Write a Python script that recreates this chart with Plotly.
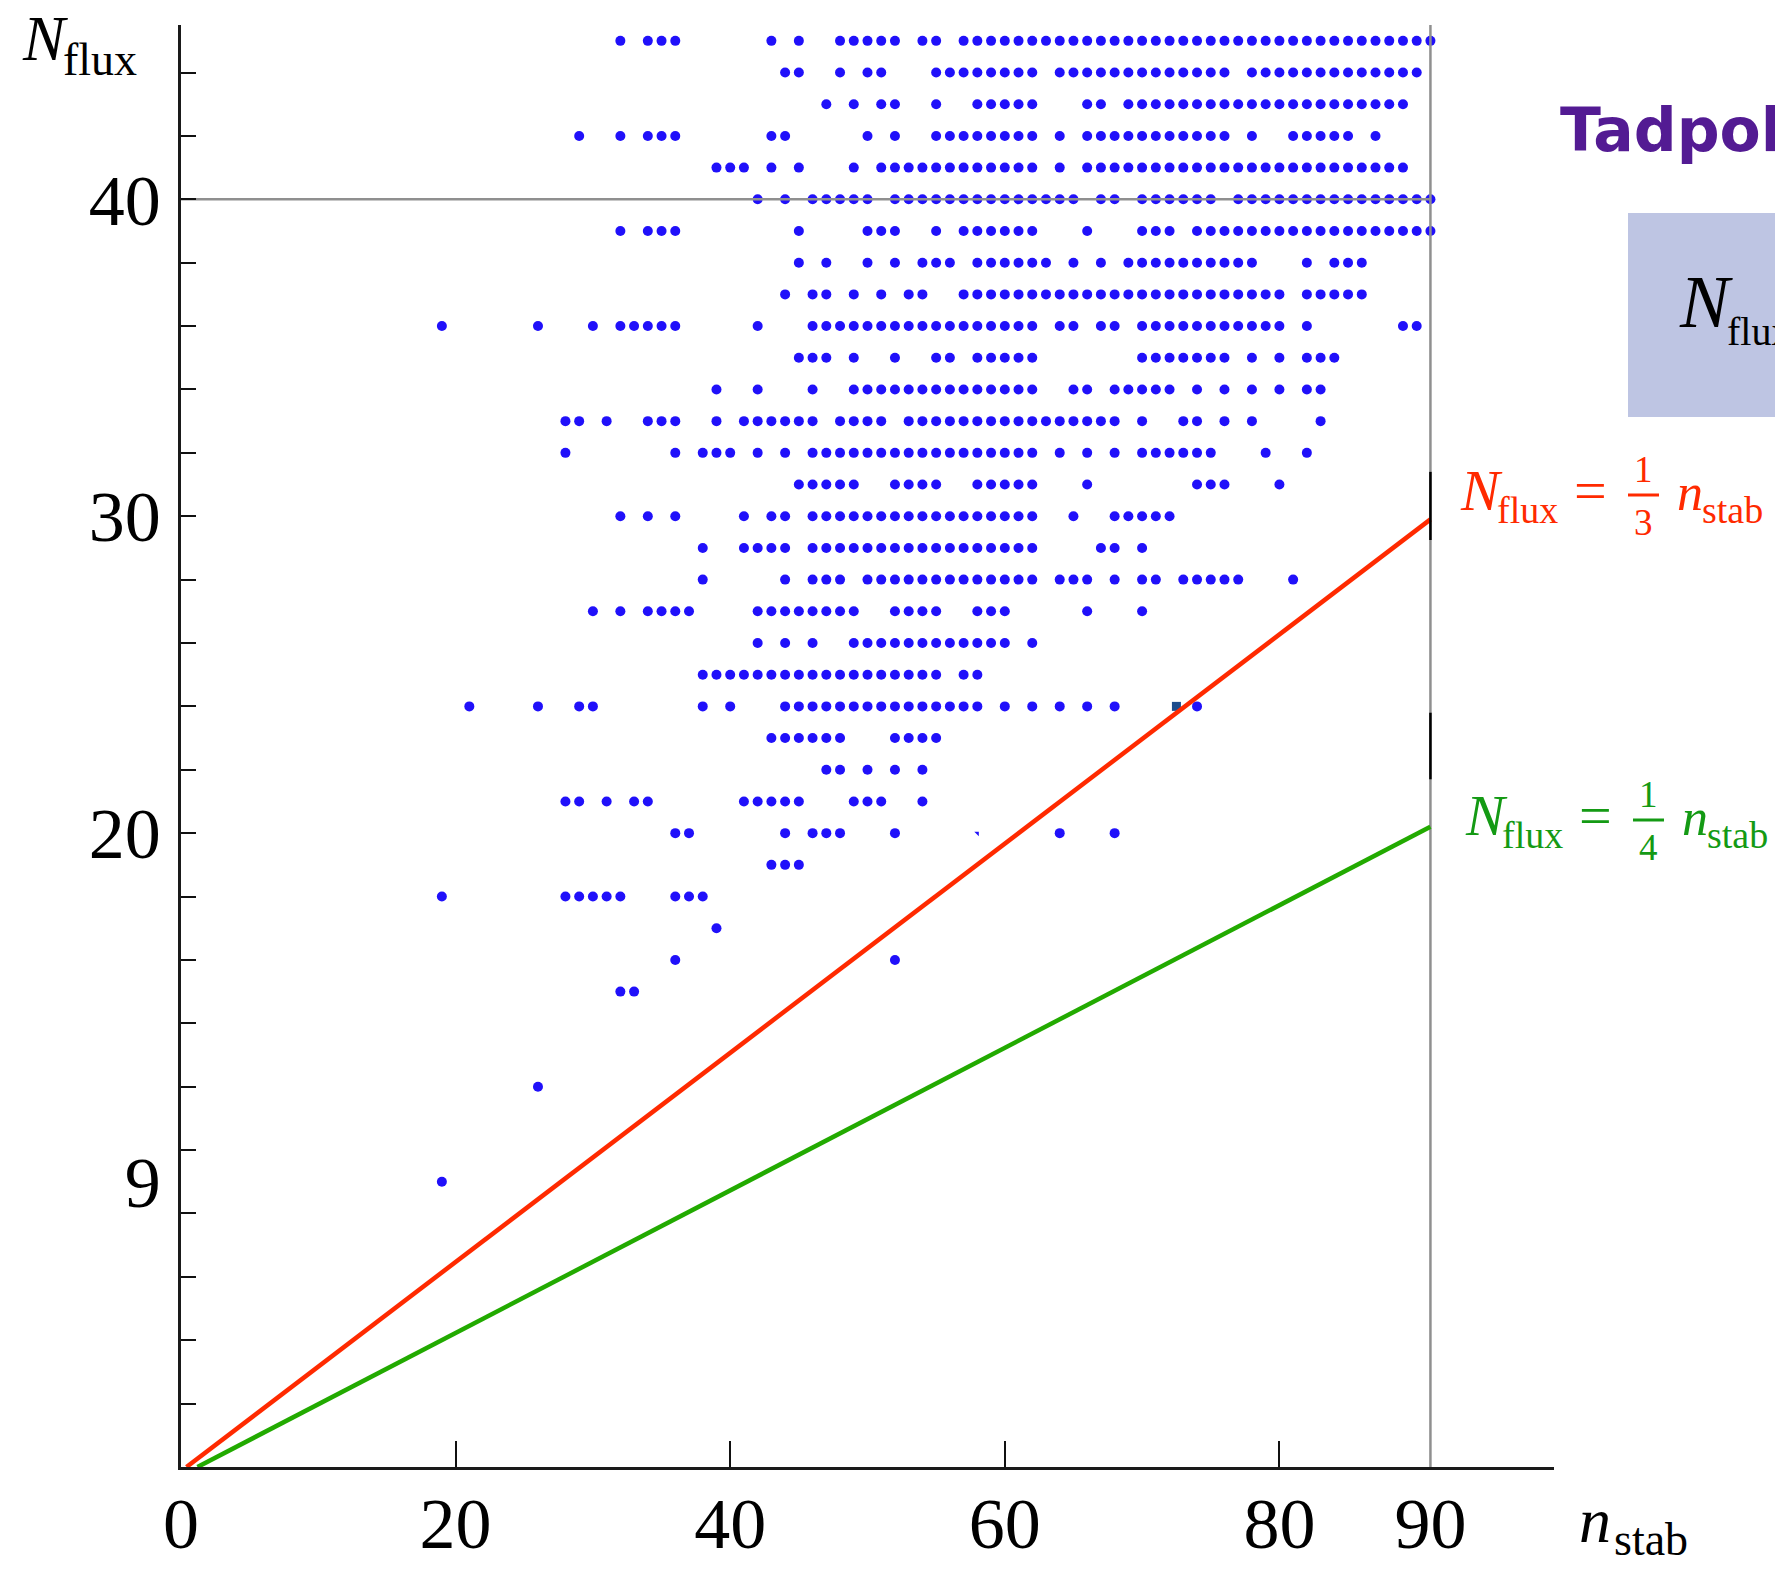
import plotly.graph_objects as go

# ---------------- data ----------------
# Each row: N_flux level and runs (first, last) of consecutive integer n_stab values with a dot
flux_levels = [45, 44, 43, 42, 41, 40, 39, 38, 37, 36, 35, 34, 33, 32, 31, 30,
               29, 28, 27, 26, 25, 24, 23, 22, 21, 20, 19, 18, 17, 16, 15, 12, 9]
row45 = [(32, 32), (34, 36), (43, 43), (45, 45), (48, 52), (54, 55), (57, 91)]
row44 = [(44, 45), (48, 48), (50, 51), (55, 62), (64, 76), (78, 90)]
row43 = [(47, 47), (49, 49), (51, 52), (55, 55), (58, 62), (66, 67), (69, 89)]
row42 = [(29, 29), (32, 32), (34, 36), (43, 44), (50, 50), (52, 52), (55, 62), (64, 64),
         (66, 76), (78, 78), (81, 85), (87, 87)]
row41 = [(39, 41), (43, 43), (45, 45), (49, 49), (51, 62), (64, 64), (66, 89)]
row40 = [(42, 42), (44, 44), (46, 50), (52, 65), (67, 68), (70, 75), (77, 91)]
row39 = [(32, 32), (34, 36), (45, 45), (50, 52), (55, 55), (57, 62), (66, 66), (70, 72), (74, 91)]
row38 = [(45, 45), (47, 47), (50, 50), (52, 52), (54, 56), (58, 63), (65, 65), (67, 67),
         (69, 78), (82, 82), (84, 86)]
row37 = [(44, 44), (46, 47), (49, 49), (51, 51), (53, 54), (57, 80), (82, 86)]
row36 = [(19, 19), (26, 26), (30, 30), (32, 36), (42, 42), (46, 62), (64, 65), (67, 68),
         (70, 80), (82, 82), (89, 90)]
row35 = [(45, 47), (49, 49), (52, 52), (55, 56), (58, 62), (70, 76), (78, 78), (80, 80), (82, 84)]
row34 = [(39, 39), (42, 42), (46, 46), (49, 62), (65, 66), (68, 72), (74, 74), (76, 76),
         (78, 78), (80, 80), (82, 83)]
row33 = [(28, 29), (31, 31), (34, 36), (39, 39), (41, 46), (48, 51), (53, 68), (70, 70),
         (73, 74), (76, 76), (78, 78), (83, 83)]
row32 = [(28, 28), (36, 36), (38, 40), (42, 42), (44, 44), (46, 62), (64, 64), (66, 66),
         (68, 68), (70, 75), (79, 79), (82, 82)]
row31 = [(45, 49), (52, 55), (58, 62), (66, 66), (74, 76), (80, 80)]
row30 = [(32, 32), (34, 34), (36, 36), (41, 41), (43, 44), (46, 62), (65, 65), (68, 72)]
row29 = [(38, 38), (41, 44), (46, 62), (67, 68), (70, 70)]
row28 = [(38, 38), (44, 44), (46, 48), (50, 62), (64, 66), (68, 68), (70, 71), (73, 77), (81, 81)]
row27 = [(30, 30), (32, 32), (34, 37), (42, 49), (52, 55), (58, 60), (66, 66), (70, 70)]
row26 = [(42, 42), (44, 44), (46, 46), (49, 60), (62, 62)]
row25 = [(38, 55), (57, 58)]
row24 = [(21, 21), (26, 26), (29, 30), (38, 38), (40, 40), (44, 58), (60, 60), (62, 62),
         (64, 64), (66, 66), (68, 68), (74, 74)]
row23 = [(43, 48), (52, 55)]
row22 = [(47, 48), (50, 50), (52, 52), (54, 54)]
row21 = [(28, 29), (31, 31), (33, 34), (41, 45), (49, 51), (54, 54)]
row20 = [(36, 37), (44, 44), (46, 48), (52, 52), (64, 64), (68, 68)]
row19 = [(43, 45)]
row18 = [(19, 19), (28, 32), (36, 38)]
row17 = [(39, 39)]
row16 = [(36, 36), (52, 52)]
row15 = [(32, 33)]
row12 = [(26, 26)]
row9 = [(19, 19)]
row_runs = [row45, row44, row43, row42, row41, row40, row39, row38, row37, row36, row35,
            row34, row33, row32, row31, row30, row29, row28, row27, row26, row25, row24,
            row23, row22, row21, row20, row19, row18, row17, row16, row15, row12, row9]

# odd marks in the picture
partial_x, partial_y = [58], [20]          # half-erased dot
square_x, square_y = [72.5], [24]          # dark square artefact

# reference lines
red_x, red_y = [0.4, 91], [0, 29.9]
green_x, green_y = [1.2, 91], [0, 20.2]
grid_h_x, grid_h_y = [0, 91], [40, 40]
grid_v_x, grid_v_y = [91, 91], [0, 45.5]
seg1_x, seg1_y = [91, 91], [29.25, 31.4]
seg2_x, seg2_y = [91, 91], [21.7, 23.8]

# ticks
x_tick_vals = [0, 20, 40, 60, 80, 91]
x_tick_text = ["0", "20", "40", "60", "80", "90"]
x_tick_marks = [20, 40, 60, 80, 100]
y_tick_vals = [9, 20, 30, 40]
y_tick_text = ["9", "20", "30", "40"]
y_tick_marks = [2, 4, 6, 8, 10, 12, 14, 16, 18, 20, 22, 24, 26, 28, 30, 32, 34, 36, 38, 40, 42, 44]

# ---------------- build ----------------
xs, ys = [], []
for lev, runs in zip(flux_levels, row_runs):
    for a, b in runs:
        for n in range(a, b + 1):
            xs.append(n)
            ys.append(lev)

W, H = 1775, 1570
L, R, T, B = 181, 221, 25, 103
PW, PH = W - L - R, H - T - B
SERIF = "Liberation Serif"
BLUE = "rgb(32,16,250)"
RED = "#FF2A00"
GREEN_LINE = "#22AA00"
GREEN_TXT = "#149A14"


def pxx(px):
    return (px - L) / PW


def pxy(py):
    return (H - B - py) / PH


annotations = []
shapes = []


def txt(text, x, baseline, size, color="black", italic=False, anchor="left",
        family=SERIF, weight="normal"):
    annotations.append(dict(
        text=text, x=pxx(x), y=pxy(baseline - 0.34 * size), xref="paper", yref="paper",
        xanchor=anchor, yanchor="middle", showarrow=False,
        font=dict(family=family, size=size, color=color,
                  style="italic" if italic else "normal", weight=weight)))


def equation(x0, b0, denom, color):
    txt("N", x0, b0, 58, color, italic=True)
    txt("flux", x0 + 37, b0 + 13, 38, color)
    txt("=", x0 + 132, b0, 58, color, anchor="center")
    txt("1", x0 + 185, b0 - 28, 37, color, anchor="center")
    txt(denom, x0 + 185, b0 + 25, 37, color, anchor="center")
    shapes.append(dict(type="line", xref="paper", yref="paper",
                       x0=pxx(x0 + 170), x1=pxx(x0 + 201), y0=pxy(b0 - 15), y1=pxy(b0 - 15),
                       line=dict(color=color, width=3)))
    txt("n", x0 + 217, b0, 52, color, italic=True)
    txt("stab", x0 + 242, b0 + 13, 38, color)


# axis titles
txt("N", 20, 60, 63, italic=True)
txt("flux", 61, 75, 46)
txt("n", 1577, 1542, 64, italic=True)
txt("stab", 1612, 1555, 46)

# line labels
equation(1458, 510, "3", RED)
equation(1463, 835, "4", GREEN_TXT)

# right-hand side slide content (cut by the page edge, as in the original)
txt("Tadpole conjecture", 1558, 150, 60, "#531B93", family="DejaVu Sans", weight="bold")
shapes.append(dict(type="rect", xref="paper", yref="paper", layer="below",
                   x0=pxx(1628), x1=pxx(1900), y0=pxy(417), y1=pxy(213),
                   fillcolor="#BEC5E3", line=dict(width=0)))
txt("N", 1677, 327, 74, italic=True)
txt("flux", 1725, 345, 40)

fig = go.Figure()
fig.add_trace(go.Scatter(x=xs, y=ys, mode="markers", cliponaxis=False,
                         marker=dict(size=10, color=BLUE, line=dict(width=0))))
fig.add_trace(go.Scatter(x=partial_x, y=partial_y, mode="markers",
                         marker=dict(size=5, color=BLUE, symbol="triangle-ne")))
fig.add_trace(go.Scatter(x=square_x, y=square_y, mode="markers",
                         marker=dict(size=9, color="#1C4C8C", symbol="square")))
fig.add_trace(go.Scatter(x=grid_h_x, y=grid_h_y, mode="lines", line=dict(color="#8F8F8F", width=2.5)))
fig.add_trace(go.Scatter(x=grid_v_x, y=grid_v_y, mode="lines", line=dict(color="#8F8F8F", width=2.5),
                         cliponaxis=False))
fig.add_trace(go.Scatter(x=red_x, y=red_y, mode="lines", line=dict(color=RED, width=4.5)))
fig.add_trace(go.Scatter(x=green_x, y=green_y, mode="lines", line=dict(color=GREEN_LINE, width=4.5)))
fig.add_trace(go.Scatter(x=seg1_x, y=seg1_y, mode="lines", line=dict(color="black", width=2.5),
                         xaxis="x2", yaxis="y2"))
fig.add_trace(go.Scatter(x=seg2_x, y=seg2_y, mode="lines", line=dict(color="black", width=2.5),
                         xaxis="x2", yaxis="y2"))

fig.update_layout(
    width=W, height=H, margin=dict(l=L, r=R, t=T, b=B, pad=0, autoexpand=False),
    plot_bgcolor="white", paper_bgcolor="white", showlegend=False,
    xaxis=dict(range=[0, 100], showline=True, linecolor="#1a1a1a", linewidth=3,
               ticks="", tickmode="array", tickvals=x_tick_vals, ticktext=x_tick_text,
               tickfont=dict(family=SERIF, size=72, color="black"), ticklabelstandoff=-8,
               showgrid=False, zeroline=False, automargin=False),
    yaxis=dict(range=[0, 45.5], showline=True, linecolor="#1a1a1a", linewidth=2.5,
               ticks="", tickmode="array", tickvals=y_tick_vals, ticktext=y_tick_text,
               tickfont=dict(family=SERIF, size=72, color="black"), ticklabelstandoff=3,
               showgrid=False, zeroline=False, automargin=False),
    xaxis2=dict(range=[0, 100], overlaying="x", anchor="y", side="bottom",
                tickmode="array", tickvals=x_tick_marks, ticks="inside", ticklen=26,
                tickwidth=2, tickcolor="#111111", showticklabels=False, showline=False,
                showgrid=False, zeroline=False, automargin=False),
    yaxis2=dict(range=[0, 45.5], overlaying="y", anchor="x", side="left",
                tickmode="array", tickvals=y_tick_marks, ticks="inside", ticklen=15,
                tickwidth=2, tickcolor="#111111", showticklabels=False, showline=False,
                showgrid=False, zeroline=False, automargin=False),
    annotations=annotations, shapes=shapes,
)

fig.write_html("out.html", config={"displayModeBar": False},
               post_script="document.body.style.margin='0';document.body.style.overflow='hidden';")
